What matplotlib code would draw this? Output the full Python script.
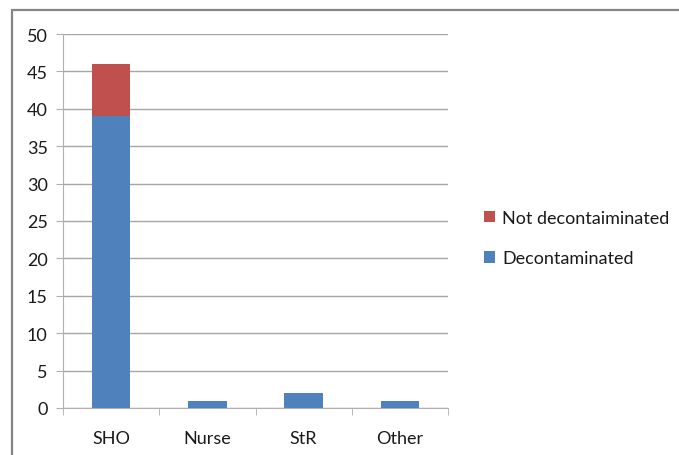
import matplotlib.pyplot as plt
import numpy as np
from matplotlib.patches import Rectangle

categories = ['SHO', 'Nurse', 'StR', 'Other']
decontaminated = [39, 1, 2, 1]
not_decontaminated = [7, 0, 0, 0]

blue = '#4f81bd'
red = '#c0504d'
grid_col = '#a6a6a6'

plt.rcParams['font.family'] = ['Lato', 'DejaVu Sans']

fig = plt.figure(figsize=(6.79, 4.56), dpi=100)
ax = fig.add_axes([63 / 679, 1 - 409 / 456, (448 - 63) / 679, (409 - 35) / 456])

# outer chart frame
fig.patches.append(Rectangle((11.5 / 679, -0.05), 1.2, 1 - 10.5 / 456 + 0.05,
                             transform=fig.transFigure, fill=False,
                             edgecolor='#868686', linewidth=1.6))

x = np.arange(len(categories))
ax.bar(x, decontaminated, width=0.4, color=blue, label='Decontaminated', zorder=3)
ax.bar(x, not_decontaminated, width=0.4, bottom=decontaminated, color=red,
       label='Not decontaiminated', zorder=3)

ax.set_xlim(-0.5, len(categories) - 0.5)
ax.set_ylim(0, 50)
ax.set_yticks(range(0, 51, 5))
ax.set_xticks(x)
ax.set_xticklabels(categories)
ax.set_xticks(np.arange(-0.5, len(categories)), minor=True)

ax.yaxis.grid(True, color=grid_col, linewidth=1, zorder=0)
for s in ['top', 'right']:
    ax.spines[s].set_visible(False)
ax.spines['left'].set_color('#b0b0b0')
ax.spines['bottom'].set_color('#b0b0b0')

fs = 13
ax.tick_params(axis='y', length=5, color='#b0b0b0', labelsize=fs, pad=6, labelcolor='#1a1a1a')
ax.tick_params(axis='x', which='major', length=0, labelsize=fs, pad=15.5, labelcolor='#1a1a1a')
ax.tick_params(axis='x', which='minor', length=5, color='#b0b0b0')

handles, labels = ax.get_legend_handles_labels()
fig.legend(handles[::-1], labels[::-1], loc='center left',
           bbox_to_anchor=(468 / 679, 1 - 239 / 456), frameon=False,
           fontsize=fs, handlelength=0.6, handleheight=0.6, handletextpad=0.4,
           labelspacing=1.35, labelcolor='#1a1a1a')

fig.savefig('out.png', dpi=100)
